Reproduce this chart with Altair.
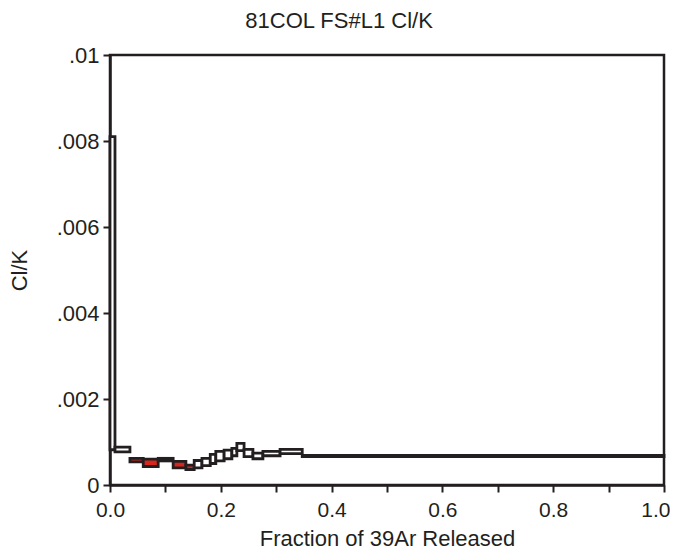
import altair as alt
import pandas as pd

# Cumulative fraction of 39Ar released at step boundaries
frac_edges = [0.0, 0.009, 0.036, 0.060, 0.087, 0.114, 0.137, 0.152, 0.166, 0.181,
              0.191, 0.206, 0.220, 0.229, 0.242, 0.258, 0.276, 0.307, 0.347, 1.0]
# Cl/K box bottoms and tops (value +/- error)
clk_low = [0.00082, 0.00077, 0.00054, 0.00043, 0.00056, 0.00040, 0.00036, 0.00040, 0.00045,
           0.00050, 0.00056, 0.00061, 0.00068, 0.00080, 0.00066, 0.00061, 0.00068, 0.00073, 0.00066]
clk_high = [0.00810, 0.00088, 0.00062, 0.00060, 0.00062, 0.00055, 0.00046, 0.00057, 0.00062,
            0.00071, 0.00078, 0.00081, 0.00085, 0.00097, 0.00083, 0.00074, 0.00078, 0.00083, 0.00069]
plateau = [False, False, True, True, True, True, True, False, False, False,
           False, False, False, False, False, False, False, False, False]

df = pd.DataFrame({
    "x0": frac_edges[:-1],
    "x1": frac_edges[1:],
    "lo": clk_low,
    "hi": clk_high,
    "kind": ["plateau" if p else "other" for p in plateau],
})

ink = "#231f20"
font = "Liberation Sans"
fs = 22

rect = alt.Chart(df).mark_rect(stroke=ink, strokeWidth=2.8).encode(
    x=alt.X("x0:Q", title="Fraction of 39Ar Released",
            scale=alt.Scale(domain=[0, 1], nice=False, zero=False),
            axis=alt.Axis(values=[0, 0.1, 0.2, 0.3, 0.4, 0.5, 0.6, 0.7, 0.8, 0.9, 1.0],
                          labelExpr="round(datum.value*10) % 2 == 0 ? format(datum.value, '.1f') : ''",
                          labelAlign={"condition": {"test": "datum.value == 1", "value": "right"},
                                      "value": "center"},
                          labelOffset={"condition": {"test": "datum.value == 1", "value": 6},
                                       "value": 0},
                          labelFontSize=21, labelFlush=False, labelPadding=7, titlePadding=8)),
    x2="x1:Q",
    y=alt.Y("lo:Q", title="Cl/K",
            scale=alt.Scale(domain=[0, 0.01], nice=False),
            axis=alt.Axis(values=[0, 0.002, 0.004, 0.006, 0.008, 0.01],
                          labelExpr="datum.value == 0 ? '0' : replace(format(datum.value, '.3~f'), '0.', '.')",
                          labelFlush=False, labelPadding=4, titlePadding=25)),
    y2="hi:Q",
    fill=alt.Fill("kind:N", scale=alt.Scale(domain=["plateau", "other"], range=["#d9261c", "#ffffff"]),
                  legend=None),
)

chart = rect.properties(
    width=554, height=430,
    padding={"left": 102, "top": 47, "right": 6, "bottom": 70},
    autosize=alt.AutoSizeParams(type="none"),
    title=alt.TitleParams("81COL FS#L1 Cl/K", font=font, fontSize=fs, fontWeight="normal",
                          color=ink, anchor="middle", frame="bounds", offset=11),
).configure_view(
    stroke=ink, strokeWidth=2.5
).configure_axis(
    grid=False, domainColor=ink, domainWidth=2.5, tickColor=ink, tickWidth=2, tickSize=7,
    labelFont=font, labelFontSize=fs, labelColor=ink,
    titleFont=font, titleFontSize=fs, titleFontWeight="normal", titleColor=ink,
)

chart.save("out.html", embed_options={"renderer": "svg", "actions": False})
